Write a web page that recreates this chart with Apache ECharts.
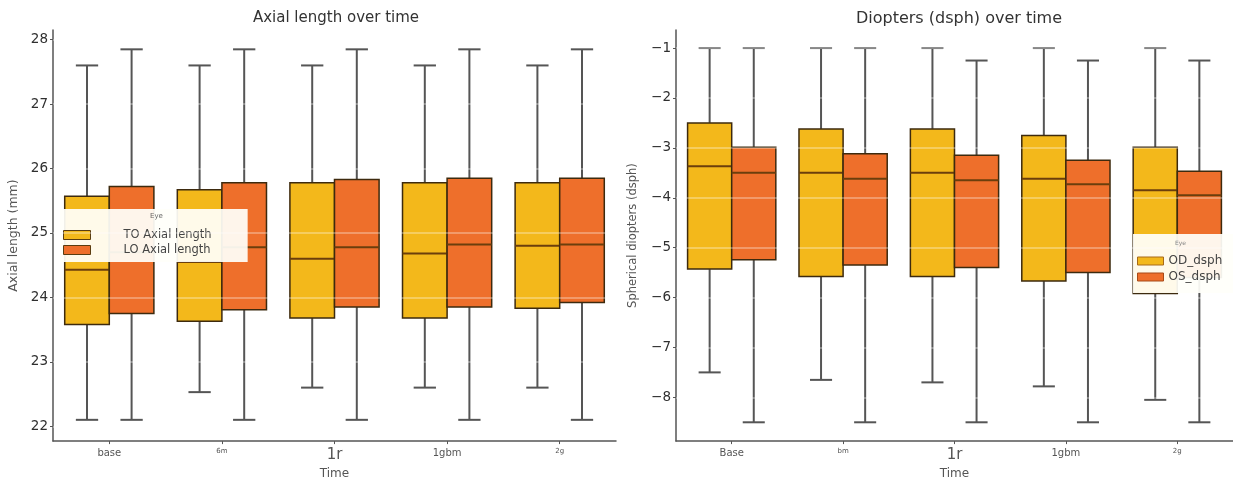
<!DOCTYPE html>
<html>
<head>
<meta charset="utf-8">
<script src="https://cdn.jsdelivr.net/npm/echarts@6/dist/echarts.min.js"></script>
<style>
html,body{margin:0;padding:0;background:#fff;}
#chart{width:1233px;height:485px;}
</style>
</head>
<body>
<div id="chart"></div>
<script>
// ---- data (box stats: [min, Q1, median, Q3, max]) ----
const timeLeft = ['base', '6m', '1r', '1gbm', '2g'];
const timeRight = ['Base', 'bm', '1r', '1gbm', '2g'];

const toAxialLength = [
  [22.1, 23.58, 24.43, 25.57, 27.6],
  [22.53, 23.63, 24.55, 25.67, 27.6],
  [22.6, 23.68, 24.6, 25.78, 27.6],
  [22.6, 23.68, 24.68, 25.78, 27.6],
  [22.6, 23.83, 24.8, 25.78, 27.6]
];
const loAxialLength = [
  [22.1, 23.75, 24.7, 25.72, 27.85],
  [22.1, 23.81, 24.78, 25.78, 27.85],
  [22.1, 23.85, 24.78, 25.83, 27.85],
  [22.1, 23.85, 24.82, 25.85, 27.85],
  [22.1, 23.92, 24.82, 25.85, 27.85]
];
const odDsph = [
  [-7.5, -5.43, -3.37, -2.5, -1],
  [-7.65, -5.58, -3.5, -2.62, -1],
  [-7.7, -5.58, -3.5, -2.62, -1],
  [-7.78, -5.67, -3.62, -2.75, -1],
  [-8.05, -5.92, -3.85, -2.99, -1]
];
const osDsph = [
  [-8.5, -5.24, -3.5, -2.99, -1],
  [-8.5, -5.35, -3.62, -3.12, -1],
  [-8.5, -5.4, -3.65, -3.15, -1.25],
  [-8.5, -5.5, -3.73, -3.25, -1.25],
  [-8.5, -5.6, -3.95, -3.47, -1.25]
];
const leftTicks = [22, 23, 24, 25, 26, 27, 28];
const rightTicks = [-8, -7, -6, -5, -4, -3, -2, -1];

// ---- styling ----
const FONT = 'DejaVu Sans';
const YELLOW = '#F3B81B';
const ORANGE = '#EE6F2B';
const EDGE = '#3d2a0e';
const WHISK = '#555555';
const xLabelSize = [10, 7, 15, 10, 7];

function toRows(stats) {
  return stats.map((s, i) => [i].concat(s));
}

function makeRender(side) {
  return function (params, api) {
    const ci = api.value(0);
    const vMin = api.value(1), q1 = api.value(2), med = api.value(3), q3 = api.value(4), vMax = api.value(5);
    const band = api.size([1, 0])[0];
    const w = band * 0.396;
    const cx = api.coord([ci, med])[0] + side * w / 2;
    const y = v => api.coord([ci, v])[1];
    const cap = w * 0.5;
    const color = api.visual('color');
    const lineStyle = { stroke: WHISK, lineWidth: 2 };
    return {
      type: 'group',
      children: [
        { type: 'line', shape: { x1: cx, y1: y(vMax), x2: cx, y2: y(q3) }, style: lineStyle },
        { type: 'line', shape: { x1: cx, y1: y(q1), x2: cx, y2: y(vMin) }, style: lineStyle },
        { type: 'line', shape: { x1: cx - cap / 2, y1: y(vMax), x2: cx + cap / 2, y2: y(vMax) }, style: lineStyle },
        { type: 'line', shape: { x1: cx - cap / 2, y1: y(vMin), x2: cx + cap / 2, y2: y(vMin) }, style: lineStyle },
        { type: 'rect', shape: { x: cx - w / 2, y: y(q3), width: w, height: y(q1) - y(q3) },
          style: { fill: color, stroke: EDGE, lineWidth: 1.5 } },
        { type: 'line', shape: { x1: cx - w / 2, y1: y(med), x2: cx + w / 2, y2: y(med) },
          style: { stroke: '#6b3e0c', lineWidth: 2 } }
      ]
    };
  };
}

function gridLines(ticks) {
  return {
    silent: true, symbol: 'none', label: { show: false },
    lineStyle: { color: 'rgba(255,255,255,0.22)', width: 1.5, type: 'solid' },
    data: ticks.map(t => ({ yAxis: t }))
  };
}

function series(name, stats, side, color, axisIdx, ticks) {
  return {
    name: name, type: 'custom', xAxisIndex: axisIdx, yAxisIndex: axisIdx,
    renderItem: makeRender(side),
    itemStyle: { color: color },
    encode: { x: 0, y: [1, 2, 3, 4, 5] },
    data: toRows(stats),
    markLine: gridLines(ticks),
    z: 2
  };
}

const axisLineStyle = { show: true, lineStyle: { color: '#555', width: 1.5 } };
const minusFmt = v => String(v).replace('-', '\u2212');

function xAxis(gridIndex, cats) {
  const rich = {};
  xLabelSize.forEach((s, i) => { rich['s' + i] = { fontSize: s, color: '#555', fontFamily: FONT }; });
  return {
    type: 'category', gridIndex: gridIndex, data: cats, boundaryGap: true,
    axisLine: axisLineStyle,
    axisTick: { show: true, alignWithLabel: true, length: 3, lineStyle: { color: '#555' } },
    axisLabel: { margin: 7, formatter: (v, i) => '{s' + i + '|' + v + '}', rich: rich },
    name: 'Time', nameLocation: 'middle', nameGap: 20,
    nameTextStyle: { fontSize: 12, color: '#555', fontFamily: FONT },
    splitLine: { show: false }
  };
}

function yAxis(gridIndex, min, max, ticks, name, gap, nameSize) {
  return {
    type: 'value', gridIndex: gridIndex, min: min, max: max,
    axisLine: axisLineStyle,
    axisTick: { show: true, length: 3, customValues: ticks, lineStyle: { color: '#555' } },
    axisLabel: { customValues: ticks, formatter: minusFmt, fontSize: 13.5, color: '#2f2f2f', fontFamily: FONT, margin: 5 },
    splitLine: { show: false },
    name: name, nameLocation: 'middle', nameGap: gap,
    nameTextStyle: { fontSize: nameSize, color: '#555', fontFamily: FONT }
  };
}

const chart = echarts.init(document.getElementById('chart'), null, { renderer: 'canvas' });
const option = {
  backgroundColor: '#ffffff',
  animation: false,
  textStyle: { fontFamily: FONT },
  title: [
    { text: 'Axial length over time', left: 331, top: 6, textAlign: 'center',
      textStyle: { fontSize: 15, fontWeight: 'normal', color: '#333', fontFamily: FONT } },
    { text: 'Diopters (dsph) over time', left: 954, top: 6, textAlign: 'center',
      textStyle: { fontSize: 16, fontWeight: 'normal', color: '#333', fontFamily: FONT } }
  ],
  grid: [
    { left: 53, top: 30, width: 563, height: 416 },
    { left: 676, top: 30, width: 560, height: 416 }
  ],
  xAxis: [xAxis(0, timeLeft), xAxis(1, timeRight)],
  yAxis: [
    yAxis(0, 21.77, 28.15, leftTicks, 'Axial length (mm)', 33, 12.5),
    yAxis(1, -8.877, -0.638, rightTicks, 'Spherical diopters (dsph)', 37, 11.5)
  ],
  legend: [
    {
      data: [
        { name: 'TO Axial length', itemStyle: { color: YELLOW, borderColor: '#5a3d10', borderWidth: 1 } },
        { name: 'LO Axial length', itemStyle: { color: ORANGE, borderColor: '#5a3d10', borderWidth: 1 } }
      ],
      orient: 'vertical', left: 60, top: 209, icon: 'rect',
      itemWidth: 27, itemHeight: 9, itemGap: 3,
      padding: [20, 36, 6, 3],
      backgroundColor: 'rgba(255,255,250,0.93)', borderWidth: 0,
      textStyle: { fontSize: 11.5, color: '#444', fontFamily: FONT, padding: [0, 0, 0, 28] },
      selectedMode: false
    },
    {
      data: [
        { name: 'OD_dsph', itemStyle: { color: YELLOW, borderColor: '#a86a18', borderWidth: 1 } },
        { name: 'OS_dsph', itemStyle: { color: ORANGE, borderColor: '#a84a18', borderWidth: 1 } }
      ],
      orient: 'vertical', left: 1133, top: 234, icon: 'rect',
      itemWidth: 26, itemHeight: 8, itemGap: 4,
      padding: [21, 20, 10, 4],
      backgroundColor: 'rgba(255,255,250,0.93)', borderWidth: 0,
      textStyle: { fontSize: 12, color: '#444', fontFamily: FONT },
      selectedMode: false
    }
  ],
  graphic: [
    { type: 'text', left: 150, top: 213, z: 100,
      style: { text: 'Eye', fontSize: 7, fill: '#666', fontFamily: FONT } },
    { type: 'text', left: 1175, top: 240, z: 100,
      style: { text: 'Eye', fontSize: 6, fill: '#888', fontFamily: FONT } }
  ],
  series: [
    series('TO Axial length', toAxialLength, -1, YELLOW, 0, leftTicks),
    series('LO Axial length', loAxialLength, 1, ORANGE, 0, leftTicks),
    series('OD_dsph', odDsph, -1, YELLOW, 1, rightTicks),
    series('OS_dsph', osDsph, 1, ORANGE, 1, rightTicks)
  ]
};
chart.setOption(option);
</script>
</body>
</html>
